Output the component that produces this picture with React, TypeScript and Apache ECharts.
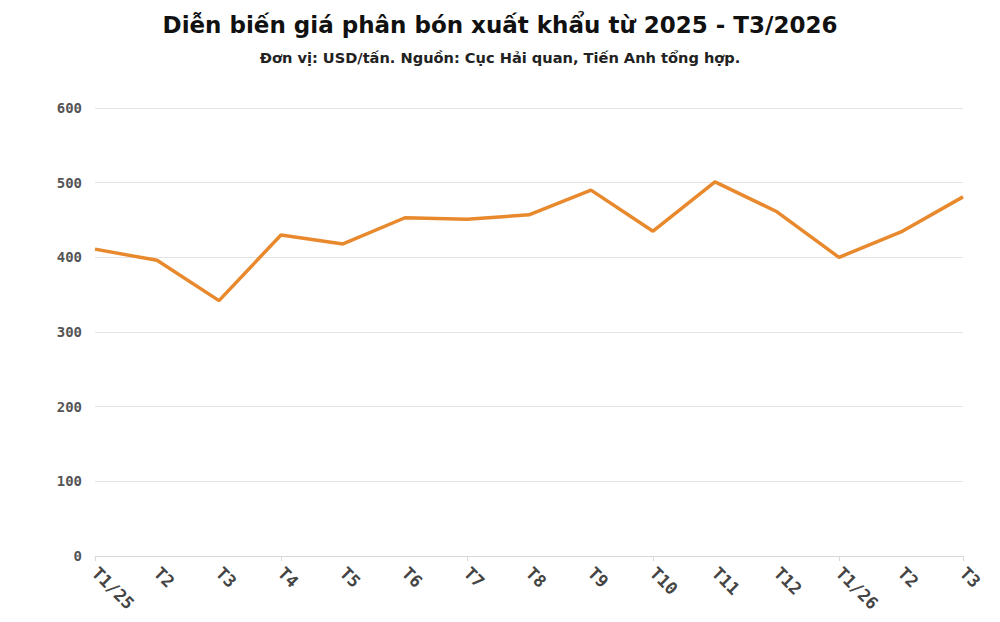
import React, { useEffect, useRef } from "react";
import * as echarts from "echarts";

const TITLE = "Diễn biến giá phân bón xuất khẩu từ 2025 - T3/2026";
const SUBTITLE = "Đơn vị: USD/tấn. Nguồn: Cục Hải quan, Tiến Anh tổng hợp.";
const categories = ["T1/25", "T2", "T3", "T4", "T5", "T6", "T7", "T8", "T9", "T10", "T11", "T12", "T1/26", "T2", "T3"];
const prices = [411, 396, 342, 430, 418, 453, 451, 457, 490, 435, 501, 461, 400, 434, 481];
const yTicks = [0, 100, 200, 300, 400, 500, 600];

export default function App() {
  const ref = useRef<HTMLDivElement>(null);
  useEffect(() => {
    if (!ref.current) return;
    const chart = echarts.init(ref.current, null, { renderer: "svg" });
    const axisFont = { fontFamily: "DejaVu Sans Mono", fontWeight: "bold" as const, color: "#555" };
    chart.setOption({
      animation: false,
      backgroundColor: "#ffffff",
      title: [
        {
          text: TITLE,
          left: "center",
          top: 8,
          textStyle: { fontFamily: "DejaVu Sans", fontWeight: "bold", fontSize: 23, color: "#111" },
        },
        {
          text: SUBTITLE,
          left: "center",
          top: 45,
          textStyle: { fontFamily: "DejaVu Sans", fontWeight: "bold", fontSize: 14.6, color: "#222" },
        },
      ],
      grid: { left: 95, right: 37, top: 108, bottom: 66, containLabel: false },
      xAxis: {
        type: "category",
        data: categories,
        boundaryGap: false,
        axisLine: { show: true, lineStyle: { color: "#d9d9d9", width: 1 } },
        axisTick: { show: true, interval: 2, length: 5, lineStyle: { color: "#d9d9d9" } },
        axisLabel: { ...axisFont, fontSize: 17, rotate: -45, margin: 14, interval: 0, color: "#444" },
      },
      yAxis: {
        type: "value",
        min: yTicks[0],
        max: yTicks[yTicks.length - 1],
        interval: 100,
        axisLine: { show: false },
        axisTick: { show: false },
        axisLabel: { ...axisFont, fontSize: 14, margin: 13 },
        splitLine: { lineStyle: { color: "#e3e3e3", width: 1 } },
      },
      series: [
        {
          type: "line",
          data: prices,
          symbol: "none",
          lineStyle: { color: "#e8892e", width: 3.5 },
        },
      ],
    });
    return () => chart.dispose();
  }, []);
  return <div ref={ref} style={{ width: 1000, height: 622, position: "absolute", left: 0, top: 0 }} />;
}
